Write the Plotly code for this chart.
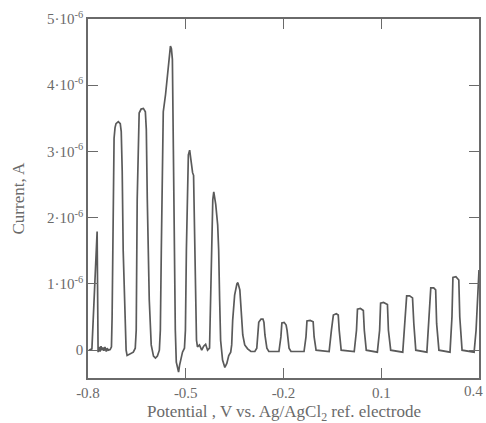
import plotly.graph_objects as go

# Potential (V vs Ag/AgCl2) and current (microamps)
potential = [
    -0.797, -0.788, -0.772, -0.769, -0.766, -0.763, -0.760, -0.757, -0.754, -0.751, -0.748, -0.744, -0.741, -0.738, -0.732, -0.728,
    -0.726, -0.723, -0.720, -0.717, -0.714, -0.707, -0.701, -0.698, -0.695, -0.692, -0.686, -0.683, -0.680, -0.670, -0.661, -0.655,
    -0.652, -0.649, -0.646, -0.643, -0.637, -0.630, -0.624, -0.621, -0.618, -0.612, -0.606, -0.599, -0.593, -0.587, -0.581,
    -0.578, -0.575, -0.572, -0.569, -0.562, -0.556, -0.550, -0.547, -0.544, -0.541, -0.538, -0.535, -0.532, -0.529, -0.525, -0.522, -0.519, -0.516, -0.510, -0.504,
    -0.501, -0.498, -0.495, -0.492, -0.488, -0.485, -0.482, -0.479, -0.476, -0.473, -0.470, -0.467, -0.464, -0.458, -0.451, -0.445, -0.439, -0.433, -0.427,
    -0.424, -0.421, -0.417, -0.414, -0.408, -0.402, -0.399, -0.396, -0.393, -0.387, -0.380, -0.374, -0.368, -0.362, -0.359,
    -0.356, -0.350, -0.343, -0.340, -0.334, -0.331, -0.325, -0.319, -0.310, -0.300, -0.288, -0.282,
    -0.279, -0.276, -0.269, -0.263, -0.260, -0.257, -0.251, -0.245, -0.214,
    -0.208, -0.205, -0.198, -0.192, -0.189, -0.183, -0.177, -0.137,
    -0.131, -0.128, -0.118, -0.109, -0.106, -0.100, -0.060,
    -0.053, -0.047, -0.038, -0.032, -0.029, -0.023, 0.017,
    0.024, 0.027, 0.036, 0.045, 0.048, 0.054, 0.088,
    0.095, 0.098, 0.107, 0.119, 0.122, 0.129, 0.166,
    0.172, 0.178, 0.187, 0.196, 0.200, 0.206, 0.240,
    0.246, 0.252, 0.261, 0.267, 0.270, 0.277, 0.311,
    0.317, 0.320, 0.329, 0.338, 0.341, 0.348, 0.385,
    0.391, 0.397, 0.400,
]
current_uA = [
    0.00, 0.02, 1.79, -0.03, 0.05, -0.02, 0.06, 0.00, 0.04, -0.01, 0.05, -0.02, 0.03, 0.00, 0.01, 0.05,
    0.5, 2.3, 3.2, 3.36, 3.42, 3.45, 3.42, 3.3, 2.7, 1.5, 0.3, 0.0, -0.08, -0.05, -0.03, 0.03,
    0.3, 2.27, 3.33, 3.58, 3.64, 3.65, 3.6, 3.33, 2.27, 0.76, 0.08, -0.09, -0.12, -0.09, 0.0,
    0.3, 1.5, 2.58, 3.6, 3.86, 4.17, 4.47, 4.59, 4.55, 4.39, 3.03, 1.52, 0.3, -0.18, -0.3, -0.33, -0.23, -0.15, -0.03, 0.03,
    0.3, 1.52, 2.58, 2.95, 3.02, 2.88, 2.73, 2.68, 2.64, 1.82, 0.76, 0.15, 0.05, 0.08, 0.0, 0.06, 0.09, 0.0, 0.03,
    0.76, 1.82, 2.27, 2.39, 2.2, 1.89, 1.52, 0.76, 0.15, -0.15, -0.26, -0.2, -0.08, -0.03, 0.08,
    0.45, 0.83, 1.0, 1.02, 0.91, 0.61, 0.23, 0.08, 0.02, -0.02, -0.02, 0.03,
    0.3, 0.42, 0.47, 0.47, 0.42, 0.23, 0.03, -0.02, -0.02,
    0.2, 0.41, 0.42, 0.38, 0.3, 0.03, -0.02, -0.02,
    0.2, 0.44, 0.45, 0.43, 0.2, 0.0, -0.02,
    0.3, 0.53, 0.55, 0.53, 0.3, 0.0, -0.02,
    0.3, 0.62, 0.63, 0.6, 0.3, 0.0, -0.03,
    0.3, 0.71, 0.72, 0.69, 0.3, 0.0, -0.03,
    0.4, 0.82, 0.82, 0.79, 0.4, 0.0, -0.03,
    0.4, 0.94, 0.94, 0.91, 0.4, 0.0, -0.03,
    0.5, 1.1, 1.11, 1.06, 0.5, 0.0, -0.03,
    0.3, 1.0, 1.21,
]
current = [c * 1e-6 for c in current_uA]

x_tick_vals = [-0.8, -0.5, -0.2, 0.1, 0.4]
x_tick_text = ["-0.8", "-0.5", "-0.2", "0.1", "0.4"]
y_tick_vals = [0, 1e-6, 2e-6, 3e-6, 4e-6, 5e-6]
y_tick_text = ["0", "1·10<sup>-6</sup>", "2·10<sup>-6</sup>", "3·10<sup>-6</sup>",
               "4·10<sup>-6</sup>", "5·10<sup>-6</sup>"]
x_title = "Potential , V vs. Ag/AgCl<sub>2</sub> ref. electrode"
y_title = "Current, A"

ink = "#6a6a6a"
fnt = "Liberation Serif"

fig = go.Figure()
fig.add_trace(go.Scatter(x=potential, y=current, mode="lines",
                         line=dict(color="#5a5a5a", width=1.7), showlegend=False))

axis_common = dict(showline=True, linecolor=ink, linewidth=1.5, mirror="ticks",
                   ticks="inside", ticklen=10, tickwidth=1.3, tickcolor=ink,
                   showgrid=False, zeroline=False, automargin=False,
                   tickfont=dict(family=fnt, size=15, color=ink))

# the last x tick label sits on the paper edge, where plotly drops it; draw it as text
shown_x_text = x_tick_text[:-1] + [""]

fig.update_layout(
    width=486, height=423,
    margin=dict(l=88, r=7, t=19, b=45),
    paper_bgcolor="white", plot_bgcolor="white",
    xaxis=dict(range=[-0.8, 0.4], tickvals=x_tick_vals, ticktext=shown_x_text,
               **axis_common),
    yaxis=dict(range=[-0.42e-6, 5e-6], tickvals=y_tick_vals, ticktext=y_tick_text,
               ticklabelstandoff=0, **axis_common),
    annotations=[
        dict(text=x_tick_text[-1], xref="x", yref="paper", x=x_tick_vals[-1], y=0,
             xanchor="right", yanchor="top", xshift=6, yshift=-3, showarrow=False,
             font=dict(family=fnt, size=15, color=ink)),
        dict(text=x_title, xref="paper", yref="paper", x=0.5, y=-0.097,
             xanchor="center", yanchor="middle", showarrow=False,
             font=dict(family=fnt, size=17, color=ink)),
        dict(text=y_title, xref="paper", yref="paper", x=-0.179, y=0.5,
             xanchor="center", yanchor="middle", textangle=-90, showarrow=False,
             font=dict(family=fnt, size=17, color=ink)),
    ],
)

fig.write_html("out.html", config={"displayModeBar": False},
               post_script="document.body.style.margin='0';")
